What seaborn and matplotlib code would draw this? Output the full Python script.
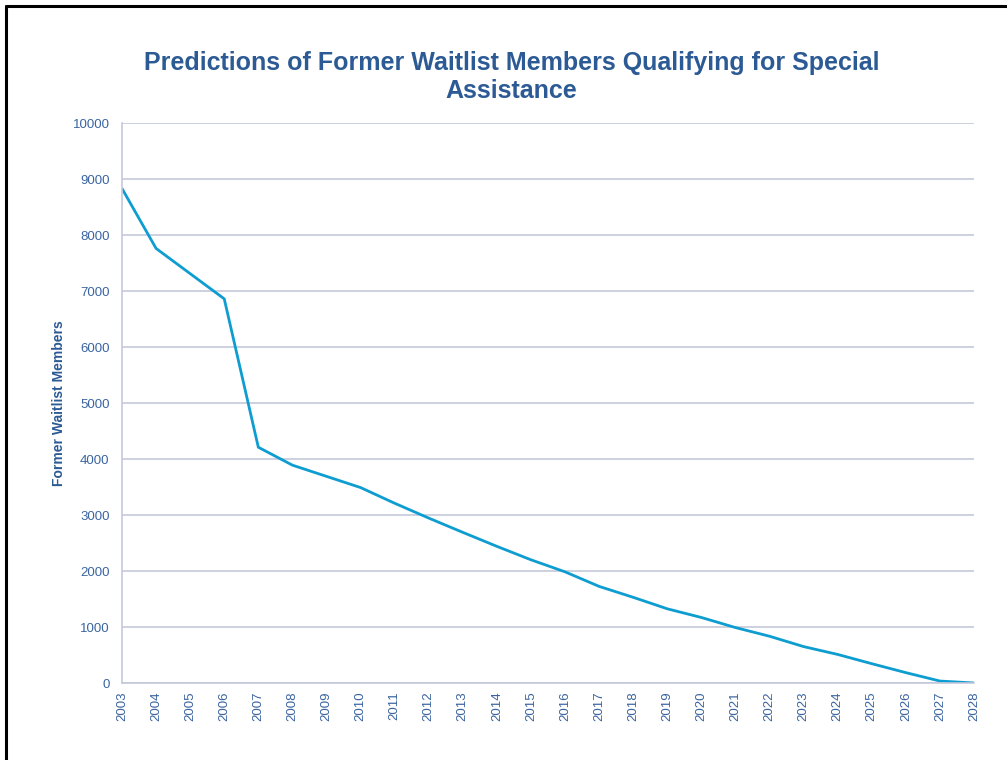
import pandas as pd
import numpy as np
import matplotlib
matplotlib.use("Agg")
import matplotlib.pyplot as plt
import seaborn as sns
from matplotlib.lines import Line2D

# Data
YEARS = list(range(2003, 2029))
MEMBERS = [8830, 7760, 7310, 6860, 4210, 3890, 3690, 3490, 3210, 2945,
           2690, 2440, 2200, 1985, 1725, 1530, 1325, 1170, 990, 835,
           650, 510, 345, 185, 35, 0]
Y_TICKS = list(range(0, 10001, 1000))

TITLE = "Predictions of Former Waitlist Members Qualifying for Special\nAssistance"
Y_LABEL = "Former Waitlist Members"

# Colours
TEXT_BLUE = "#2C5A94"
TICK_BLUE = "#3A64A0"
LINE_BLUE = "#0E9DD0"
GRID_GREY = "#C3C8DA"

sns.set_style("white")
plt.rcParams['font.family'] = ['Liberation Sans', 'DejaVu Sans']

df = pd.DataFrame({"Year": YEARS, "Members": MEMBERS})

fig = plt.figure(figsize=(10.07, 7.60), dpi=100)
ax = fig.add_axes([122 / 1007, 1 - 683 / 760, (974 - 122) / 1007, (683 - 123) / 760])

sns.lineplot(data=df, x="Year", y="Members", ax=ax, color=LINE_BLUE, linewidth=2.0)

ax.set_xlim(2003, 2028)
ax.set_ylim(0, 10000)
ax.set_yticks(Y_TICKS)
ax.set_xticks(YEARS)
ax.set_xticklabels([str(y) for y in YEARS], rotation=90)
ax.yaxis.grid(True, color=GRID_GREY, linewidth=1.2)
ax.set_axisbelow(True)

for side in ["top", "right"]:
    ax.spines[side].set_visible(False)
for side in ["left", "bottom"]:
    ax.spines[side].set_color(GRID_GREY)
    ax.spines[side].set_linewidth(1.2)

ax.tick_params(axis="both", colors=GRID_GREY, length=5, width=1.2,
               labelcolor=TICK_BLUE, labelsize=9.5, direction="out")
ax.tick_params(axis="y", pad=4)
ax.tick_params(axis="x", pad=1)

ax.set_xlabel("")
ax.set_ylabel(Y_LABEL, color=TEXT_BLUE, fontsize=10, fontweight="bold", labelpad=5)

fig.text(0.508, 1 - 77 / 760, TITLE, ha="center", va="center", color=TEXT_BLUE,
         fontsize=18, fontweight="bold", linespacing=1.25)

# black frame on the top and left edges
fig.add_artist(Line2D([6 / 1007, 6 / 1007], [0, 1 - 6 / 760], color="black", linewidth=2.2,
                      transform=fig.transFigure))
fig.add_artist(Line2D([6 / 1007, 1], [1 - 6 / 760, 1 - 6 / 760], color="black", linewidth=2.2,
                      transform=fig.transFigure))

fig.savefig("out.png", dpi=100, facecolor="white")
